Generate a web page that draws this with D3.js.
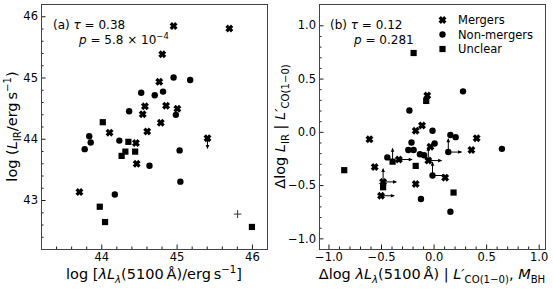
<!DOCTYPE html>
<html>
<head>
<meta charset="utf-8">
<script src="https://cdn.jsdelivr.net/npm/d3@7"></script>
<style>
  html, body { margin: 0; padding: 0; background: #fff; }
  svg { display: block; font-family: 'DejaVu Sans', sans-serif; }
</style>
</head>
<body>
<script>
// Panel (a): log L_IR vs log lambda L_lambda(5100A). Third field = limit flag.
const mergersA = [
  [44.96, 45.84], [45.70, 45.80], [44.81, 45.38], [44.77, 44.93], [44.58, 44.53],
  [44.86, 44.54], [45.01, 44.49], [44.55, 44.40], [44.79, 44.26], [44.11, 44.10],
  [44.61, 44.12], [44.46, 43.93], [44.47, 43.59], [43.71, 43.13], [45.41, 44.01, 'd']
];
const nonMergersA = [
  [44.96, 45.00], [45.18, 44.96], [44.53, 44.75], [44.71, 44.71], [44.82, 44.77],
  [44.37, 44.45], [44.99, 44.39], [43.84, 44.04], [43.86, 43.94], [43.78, 43.83],
  [44.24, 43.97], [44.64, 43.56], [44.18, 43.09], [45.04, 43.81], [45.05, 43.30]
];
const unclearA = [
  [44.02, 44.27], [44.36, 43.95], [44.32, 43.79], [44.27, 43.72], [44.45, 43.79],
  [43.98, 42.89], [44.05, 42.64], [46.00, 42.56]
];
const typicalErrA = { x: 45.81, y: 42.77, dx: 0.05, dy: 0.065 };

// Panel (b): residuals
const mergersB = [
  [-0.06, 0.34], [-0.11, 0.06], [-0.17, 0.01], [-0.61, -0.07], [0.41, -0.06],
  [0.36, -0.17], [-0.56, -0.33], [-0.33, -0.26, 'r'], [-0.05, -0.27, 'ur'],
  [-0.48, -0.47, 'ur'], [-0.50, -0.60, 'r'], [-0.17, -0.49], [0.11, -0.43], [-0.03, -0.14]
];
const nonMergersB = [
  [0.28, 0.38], [-0.23, 0.20], [-0.01, 0.01], [0.16, -0.03], [0.21, -0.05],
  [-0.21, -0.10], [0.01, -0.11], [-0.24, -0.17], [-0.19, -0.17], [-0.13, -0.21],
  [-0.09, -0.22], [-0.44, -0.24], [0.14, -0.19, 'ur'], [0.65, -0.16],
  [-0.01, -0.41, 'ur'], [-0.12, -0.63], [0.16, -0.75]
];
const unclearB = [
  [-0.19, 0.74], [-0.07, 0.29], [-0.39, -0.28, 'u'], [-0.85, -0.36],
  [-0.17, -0.32], [-0.48, -0.52], [0.19, -0.57]
];

// Ticks
const xTicksA = [44, 45, 46];
const yTicksA = [43, 44, 45, 46];
const xTicksB = [-1.0, -0.5, 0.0, 0.5, 1.0];
const yTicksB = [-1.0, -0.5, 0.0, 0.5, 1.0];

const legendLabels = ['Mergers', 'Non-mergers', 'Unclear'];

document.addEventListener('DOMContentLoaded', () => {
  const width = 553;
  const height = 291;
  const panelTop = 4;
  const panelBottom = 249;

  const svg = d3.select('body')
    .append('svg')
    .attr('width', width)
    .attr('height', height);

  // Scales
  const xA = d3.scaleLinear().domain([43.2, 46.2]).range([41, 267]);
  const yA = d3.scaleLinear().domain([42.2, 46.2]).range([panelBottom, panelTop]);
  const xB = d3.scaleLinear().domain([-1.09, 1.06]).range([319, 545]);
  const yB = d3.scaleLinear().domain([-1.1, 1.2]).range([panelBottom, panelTop]);

  // chunky filled 'X' marker (tips at a, notches at n)
  const xPath = (s) => {
    const a = 0.2, n = 0.28, e = 0.5;
    const v = [[-a, -e], [0, -n], [a, -e], [e, -a], [n, 0], [e, a],
      [a, e], [0, n], [-a, e], [-e, a], [-n, 0], [-e, -a]];
    return 'M' + v.map(p => `${p[0] * s},${p[1] * s}`).join('L') + 'Z';
  };

  function drawMarker(g, kind, cx, cy) {
    if (kind === 'merger') {
      g.append('path').attr('d', xPath(8)).attr('transform', `translate(${cx},${cy})`).attr('fill', '#000');
    } else if (kind === 'non') {
      g.append('circle').attr('cx', cx).attr('cy', cy).attr('r', 3.2).attr('fill', '#000');
    } else {
      g.append('rect').attr('x', cx - 3.1).attr('y', cy - 3.1).attr('width', 6.2).attr('height', 6.2).attr('fill', '#000');
    }
  }

  function arrow(g, x1, y1, dir, len) {
    const dx = dir === 'r' ? len : 0;
    const dy = dir === 'u' ? -len : (dir === 'd' ? len : 0);
    const x2 = x1 + dx;
    const y2 = y1 + dy;
    g.append('line')
      .attr('x1', x1).attr('y1', y1).attr('x2', x2).attr('y2', y2)
      .attr('stroke', '#000').attr('stroke-width', 1);
    const h = 3.2;
    const w = 1.8;
    let pts;
    if (dir === 'r') pts = [[x2 + 1, y2], [x2 - h, y2 - w], [x2 - h, y2 + w]];
    else if (dir === 'u') pts = [[x2, y2 - 1], [x2 - w, y2 + h], [x2 + w, y2 + h]];
    else pts = [[x2, y2 + 1], [x2 - w, y2 - h], [x2 + w, y2 - h]];
    g.append('path').attr('d', 'M' + pts.join('L') + 'Z').attr('fill', '#000');
  }

  function drawPoints(g, data, kind, xs, ys, arrowLen) {
    data.forEach(d => {
      const cx = xs(d[0]);
      const cy = ys(d[1]);
      const lim = d[2] || '';
      if (lim.includes('u')) arrow(g, cx, cy, 'u', arrowLen);
      if (lim.includes('r')) arrow(g, cx, cy, 'r', arrowLen);
      if (lim.includes('d')) arrow(g, cx, cy, 'd', arrowLen);
      drawMarker(g, kind, cx, cy);
    });
  }

  // Text with italic / sub / sup pieces. parts: [text, flags] with flags i, b (sub), p (sup)
  function mathText(g, x, y, size, parts, anchor, rotate) {
    const t = g.append('text')
      .attr('x', x).attr('y', y)
      .attr('font-size', size)
      .attr('text-anchor', anchor || 'start')
      .attr('fill', '#000');
    if (rotate) t.attr('transform', `rotate(${rotate},${x},${y})`);
    let shift = 0;
    parts.forEach(p => {
      const f = p[1] || '';
      let target = 0;
      let fs = size;
      if (f.includes('b')) { target = size * 0.26; fs = size * 0.7; }
      if (f.includes('p')) { target = -size * 0.42; fs = size * 0.7; }
      const ts = t.append('tspan')
        .attr('font-size', fs)
        .attr('dy', target - shift)
        .text(p[0]);
      if (f.includes('i')) ts.attr('font-style', 'italic');
      shift = target;
    });
    return t;
  }

  function drawAxes(xs, ys, xTicks, yTicks, xMinor, yMinor, fmt) {
    const x0 = xs.range()[0];
    const x1 = xs.range()[1];
    const g = svg.append('g');

    // minor ticks
    g.append('g')
      .attr('transform', `translate(0,${panelBottom})`)
      .call(d3.axisBottom(xs).tickValues(xMinor).tickSize(-2.5).tickFormat(''))
      .call(a => a.select('.domain').remove());
    g.append('g')
      .attr('transform', `translate(${x0},0)`)
      .call(d3.axisLeft(ys).tickValues(yMinor).tickSize(-2.5).tickFormat(''))
      .call(a => a.select('.domain').remove());

    // major ticks
    const xa = g.append('g')
      .attr('transform', `translate(0,${panelBottom})`)
      .call(d3.axisBottom(xs).tickValues(xTicks).tickSize(-4.5).tickPadding(4).tickFormat(fmt))
      .call(a => a.select('.domain').remove());
    const ya = g.append('g')
      .attr('transform', `translate(${x0},0)`)
      .call(d3.axisLeft(ys).tickValues(yTicks).tickSize(-4.5).tickPadding(3).tickFormat(fmt))
      .call(a => a.select('.domain').remove());

    g.selectAll('.tick line').attr('stroke', '#000').attr('stroke-width', 0.9);
    [xa, ya].forEach(a => a.selectAll('text')
      .attr('font-family', "'DejaVu Sans', sans-serif")
      .attr('font-size', 11.5)
      .attr('fill', '#000'));

    // frame
    g.append('rect')
      .attr('x', x0).attr('y', panelTop)
      .attr('width', x1 - x0).attr('height', panelBottom - panelTop)
      .attr('fill', 'none').attr('stroke', '#444').attr('stroke-width', 1)
      .attr('shape-rendering', 'crispEdges');
  }

  const minorA_x = d3.range(43.4, 46.1, 0.2).filter(v => Math.abs(v - Math.round(v)) > 0.01);
  const minorA_y = d3.range(42.4, 46.1, 0.2).filter(v => Math.abs(v - Math.round(v)) > 0.01);
  const minorB = d3.range(-1.0, 1.05, 0.1).filter(v => Math.abs(v * 2 - Math.round(v * 2)) > 0.01);

  const fmtInt = d3.format('d');
  const fmtB = v => d3.format('.1f')(v).replace('-', '\u2212');

  drawAxes(xA, yA, xTicksA, yTicksA, minorA_x, minorA_y, fmtInt);
  drawAxes(xB, yB, xTicksB, yTicksB, minorB, minorB.filter(v => v > -1.1), fmtB);

  // Panel (a) points
  const gA = svg.append('g');
  drawPoints(gA, unclearA, 'unclear', xA, yA, 10);
  drawPoints(gA, nonMergersA, 'non', xA, yA, 10);
  drawPoints(gA, mergersA, 'merger', xA, yA, 10);

  // typical error cross
  gA.append('line')
    .attr('x1', xA(typicalErrA.x - typicalErrA.dx)).attr('x2', xA(typicalErrA.x + typicalErrA.dx))
    .attr('y1', yA(typicalErrA.y)).attr('y2', yA(typicalErrA.y))
    .attr('stroke', '#333').attr('stroke-width', 1);
  gA.append('line')
    .attr('x1', xA(typicalErrA.x)).attr('x2', xA(typicalErrA.x))
    .attr('y1', yA(typicalErrA.y - typicalErrA.dy)).attr('y2', yA(typicalErrA.y + typicalErrA.dy))
    .attr('stroke', '#333').attr('stroke-width', 1);

  // Panel (b) points
  const gB = svg.append('g');
  drawPoints(gB, unclearB, 'unclear', xB, yB, 13);
  drawPoints(gB, nonMergersB, 'non', xB, yB, 13);
  drawPoints(gB, mergersB, 'merger', xB, yB, 13);

  // Annotations
  const ann = svg.append('g');
  mathText(ann, 53, 29, 12, [['(a) '], ['\u03c4', 'i'], [' = 0.38']]);
  mathText(ann, 79, 44, 12, [['p', 'i'], [' = 5.8 \u00d7 10'], ['\u22124', 'p']]);
  mathText(ann, 330, 29, 12, [['(b) '], ['\u03c4', 'i'], [' = 0.12']]);
  mathText(ann, 354, 44, 12, [['p', 'i'], [' = 0.281']]);

  // Legend
  const leg = svg.append('g');
  const kinds = ['merger', 'non', 'unclear'];
  legendLabels.forEach((lab, i) => {
    const y = 20 + i * 14.5;
    drawMarker(leg, kinds[i], 442.5, y);
    leg.append('text')
      .attr('x', 458).attr('y', y + 4.2)
      .attr('font-size', 11.5)
      .text(lab);
  });

  // Axis labels
  const lab = svg.append('g');
  const ls = 14.5;
  mathText(lab, 154, 279, ls,
    [['log ['], ['\u03bbL', 'i'], ['\u03bb', 'ib'], ['(5100\u2009\u00c5)/erg\u2009s'], ['\u22121', 'p'], [']']],
    'middle');
  mathText(lab, 17, 126.5, ls,
    [['log ('], ['L', 'i'], ['IR', 'b'], ['/erg\u2009s'], ['\u22121', 'p'], [')']],
    'middle', -90);
  mathText(lab, 432, 279, ls,
    [['\u0394log '], ['\u03bbL', 'i'], ['\u03bb', 'ib'], ['(5100\u2009\u00c5) | '], ['L\u2032', 'i'],
      ['CO(1\u22120)', 'b'], [', '], ['M', 'i'], ['BH', 'b']],
    'middle');
  mathText(lab, 285, 126.5, ls,
    [['\u0394log '], ['L', 'i'], ['IR', 'b'], [' | '], ['L\u2032', 'i'], ['CO(1\u22120)', 'b']],
    'middle', -90);
});
</script>
</body>
</html>
